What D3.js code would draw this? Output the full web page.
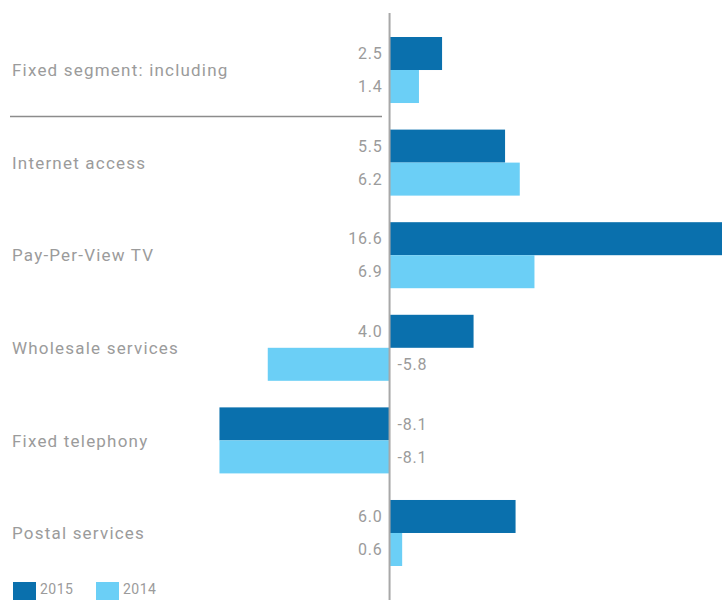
<!DOCTYPE html>
<html>
<head>
<meta charset="utf-8">
<script src="https://cdn.jsdelivr.net/npm/d3@7"></script>
<style>
  body { margin: 0; background: #fff; }
  text { font-family: Roboto, "Open Sans", sans-serif; fill: #9b9b9b; }
</style>
</head>
<body>
<div id="Container"></div>
<script>
var categories = ["Fixed segment: including", "Internet access", "Pay-Per-View TV", "Wholesale services", "Fixed telephony", "Postal services"];
var values2015 = [2.5, 5.5, 16.6, 4.0, -8.1, 6.0];
var values2014 = [1.4, 6.2, 6.9, -5.8, -8.1, 0.6];
var years = ["2015", "2014"];

var W = 722, H = 600;
var colors = { "2015": "#0a70ad", "2014": "#6bcff6" };

var canvas = d3.select("#Container").append("svg")
    .attr("width", W)
    .attr("height", H);

var data = categories.map(function (c, i) {
    return { cat: c, "2015": values2015[i], "2014": values2014[i] };
});

// zero line sits at ~389.5, bars scaled ~21px per unit, the big one runs off the edge
var x = d3.scaleLinear()
    .domain([-18.55, 15.83])
    .range([0, W])
    .clamp(true);

var y = d3.scaleBand()
    .domain(categories)
    .range([37, 566])
    .paddingInner(0.287)
    .paddingOuter(0);

var y1 = d3.scaleBand()
    .domain(years)
    .range([0, y.bandwidth()]);

var fmt = function (v) { return d3.format(".1f")(v).replace("\u2212", "-"); };

var groups = canvas.selectAll("g.grp")
    .data(data)
    .enter()
    .append("g")
    .attr("class", "grp")
    .attr("transform", function (d) { return "translate(0," + y(d.cat) + ")"; });

groups.selectAll("rect")
    .data(function (d) { return years.map(function (k) { return { k: k, v: d[k] }; }); })
    .enter()
    .append("rect")
    .attr("x", function (d) { return Math.min(x(0), x(d.v)); })
    .attr("y", function (d) { return y1(d.k); })
    .attr("width", function (d) { return Math.abs(x(d.v) - x(0)); })
    .attr("height", y1.bandwidth())
    .attr("fill", function (d) { return colors[d.k]; });

groups.selectAll("text.val")
    .data(function (d) { return years.map(function (k) { return { k: k, v: d[k] }; }); })
    .enter()
    .append("text")
    .attr("class", "val")
    .attr("x", function (d) { return d.v >= 0 ? x(0) - 7 : x(0) + 8; })
    .attr("y", function (d) { return y1(d.k) + y1.bandwidth() / 2; })
    .attr("dy", "0.36em")
    .attr("text-anchor", function (d) { return d.v >= 0 ? "end" : "start"; })
    .attr("font-size", 16)
    .style("letter-spacing", "0.8px")
    .text(function (d) { return fmt(d.v); });

groups.append("text")
    .attr("class", "cat")
    .attr("x", 12)
    .attr("y", y.bandwidth() / 2)
    .attr("dy", "0.36em")
    .attr("font-size", 17)
    .style("letter-spacing", "1.2px")
    .text(function (d) { return d.cat; });

// separator under the first group
canvas.append("line")
    .attr("x1", 10)
    .attr("x2", 382)
    .attr("y1", 116.5)
    .attr("y2", 116.5)
    .attr("stroke", "#8c8c8c")
    .attr("stroke-width", 1.3);

// zero axis
canvas.append("line")
    .attr("x1", x(0))
    .attr("x2", x(0))
    .attr("y1", 13)
    .attr("y2", H)
    .attr("stroke", "#a8a8a8")
    .attr("stroke-width", 2);

// legend
var legend = canvas.selectAll("g.leg")
    .data(years)
    .enter()
    .append("g")
    .attr("class", "leg")
    .attr("transform", function (d, i) { return "translate(" + (13 + i * 83) + ",582)"; });

legend.append("rect")
    .attr("width", 23)
    .attr("height", 18)
    .attr("fill", function (d) { return colors[d]; });

legend.append("text")
    .attr("x", 27)
    .attr("y", 7)
    .attr("dy", "0.36em")
    .attr("font-size", 14)
    .style("letter-spacing", "0.5px")
    .text(function (d) { return d; });
</script>
</body>
</html>
